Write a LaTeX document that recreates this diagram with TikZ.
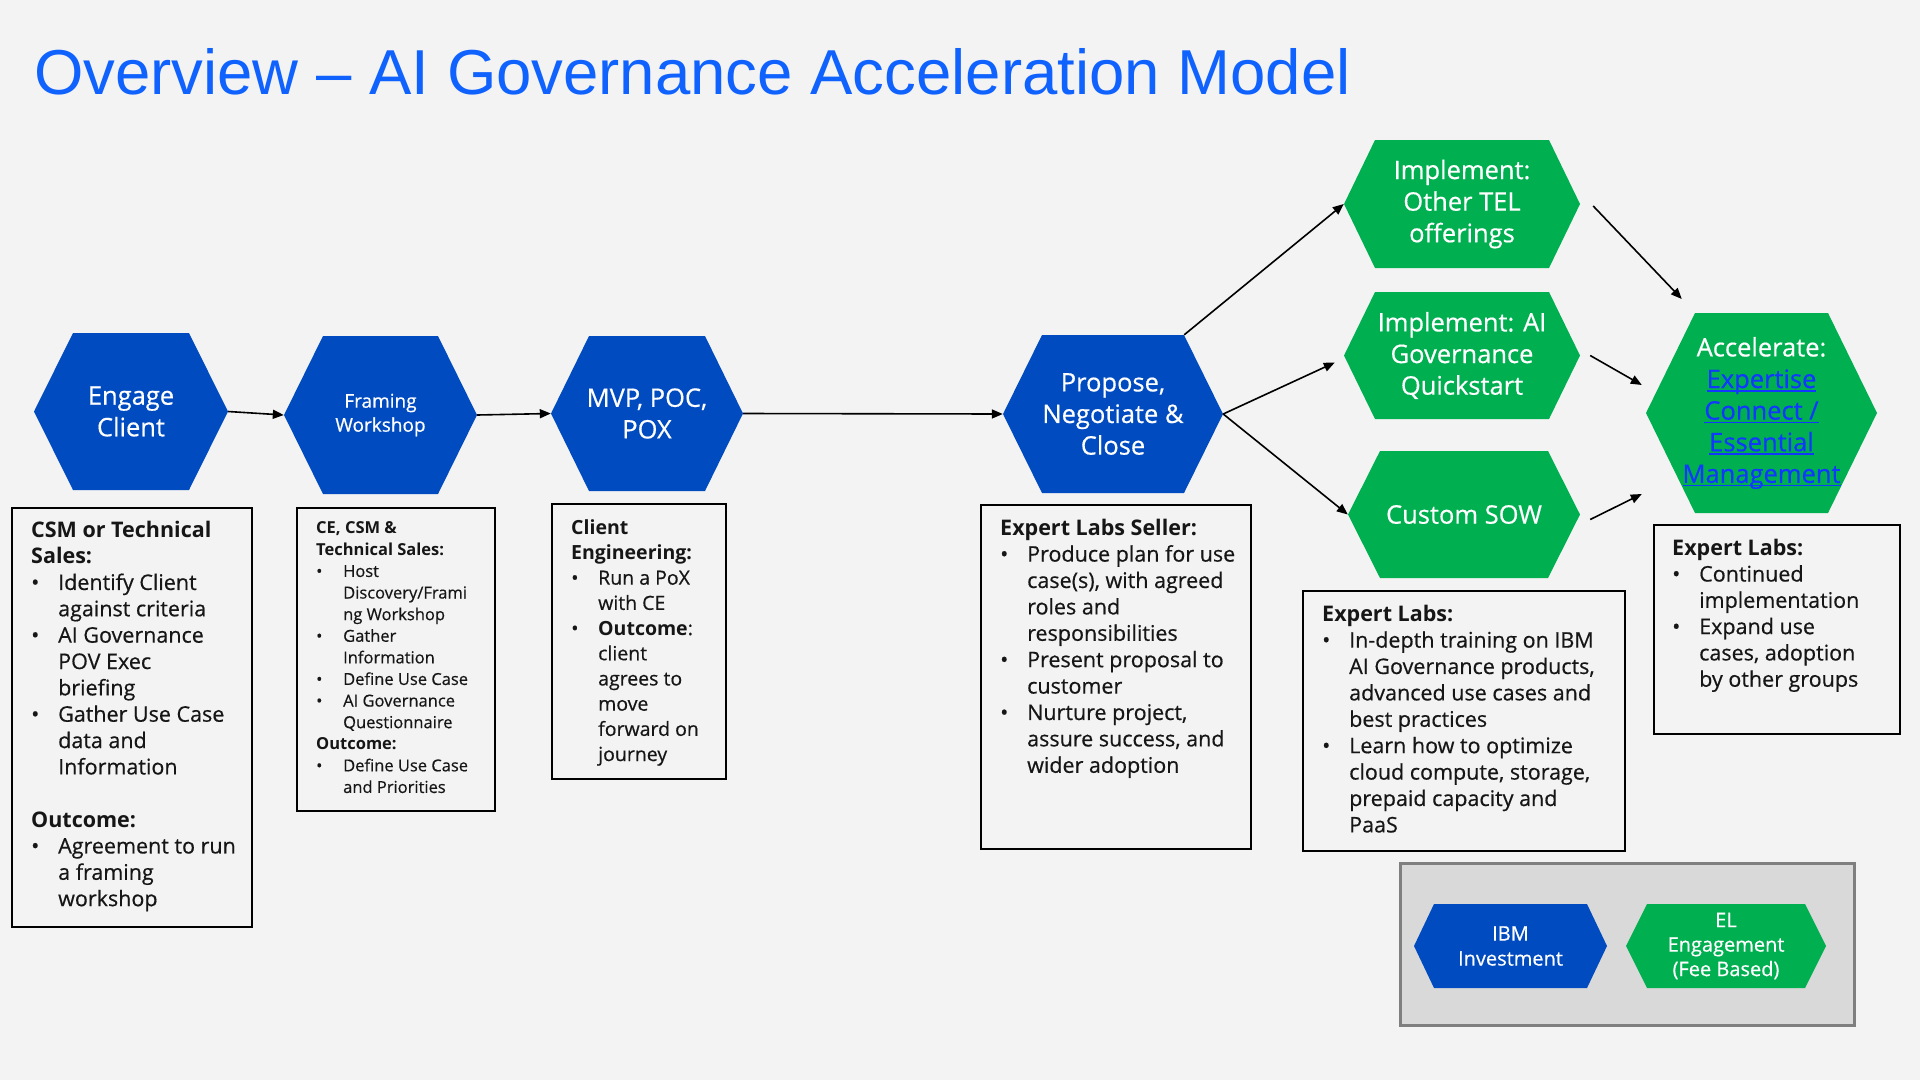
\documentclass[tikz,border=0pt]{standalone}
\usepackage{fontspec}
\setmainfont{Open Sans}[UprightFeatures={FakeBold=0.5}]
\newfontfamily\titlefont{Liberation Sans}
\usetikzlibrary{calc,arrows.meta}
\definecolor{bg}{HTML}{F3F3F3}
\definecolor{ibmblue}{HTML}{004BC0}
\definecolor{elgreen}{HTML}{00AF50}
\definecolor{titleblue}{HTML}{0F62FE}
\definecolor{linkblue}{HTML}{1238FF}
\definecolor{txt}{HTML}{161616}
\definecolor{legfill}{HTML}{D9D9D9}
\definecolor{legline}{HTML}{7F7F7F}
\newcommand\bitem[1]{\makebox[27pt][l]{\textbullet}#1}
\newcommand\bcont[1]{\hspace*{27pt}#1}
\newcommand\lnk[1]{\textcolor{linkblue}{\setbox0\hbox{#1}\rlap{\rule[-3.5pt]{\wd0}{1.6pt}}\box0}}
\tikzset{
  hexa/.style n args={4}{minimum width=#1, minimum height=#2, inner sep=0pt,
    text=white, align=center,
    path picture={\fill[#4] (path picture bounding box.west)
      -- ($(path picture bounding box.north west)+(#3,0)$)
      -- ($(path picture bounding box.north east)+(-#3,0)$)
      -- (path picture bounding box.east)
      -- ($(path picture bounding box.south east)+(-#3,0)$)
      -- ($(path picture bounding box.south west)+(#3,0)$) -- cycle;}},
  hexfont/.style={font=\fontsize{25.5}{31.6}\selectfont},
  tbox/.style={draw=black, line width=2pt, inner sep=0pt, anchor=north west},
  btxt/.style={anchor=north west, inner sep=0pt, align=left, text=txt},
  conn/.style={-{Triangle[length=11pt,width=9pt]}, line width=1.6pt, black},
  title/.style={anchor=base west, inner sep=0pt, text=titleblue,
    font=\titlefont\fontsize{63.5}{70}\selectfont}
}
\begin{document}
\begin{tikzpicture}[x=1pt,y=-1pt]
\useasboundingbox (0,0) rectangle (1920,1080);
\fill[bg] (0,0) rectangle (1920,1080);

\node[title] (ttl) at (34,94) {Overview – AI Governance Acceleration Model};

% hexagons
\node[hexa={194}{157}{39}{ibmblue}, hexfont] (engage) at (131,411.5) {Engage\\Client};
\node[hexa={193}{158}{39}{ibmblue}, font=\fontsize{19}{24}\selectfont] (framing) at (380.5,415) {Framing\\Workshop};
\node[hexa={192}{155}{38}{ibmblue}, hexfont] (mvp) at (647,413.5) {MVP, POC,\\POX};
\node[hexa={220}{158}{39}{ibmblue}, hexfont] (propose) at (1113,414) {Propose,\\Negotiate \&\\Close};
\node[hexa={236}{128}{31}{elgreen}, hexfont] (tel) at (1462,204) {Implement:\\Other TEL\\offerings};
\node[hexa={236}{127}{31}{elgreen}, hexfont] (qs) at (1462,355.5) {Implement: AI\\Governance\\Quickstart};
\node[hexa={232}{127}{32}{elgreen}, hexfont] (sow) at (1464,514.5) {Custom SOW};
\node[hexa={231}{200}{49}{elgreen}, hexfont] (acc) at (1761.5,413) {Accelerate:\\\lnk{Expertise}\\\lnk{Connect /}\\\lnk{Essential}\\\lnk{Management}};

% connectors
\draw[conn] (engage.east) -- (framing.west);
\draw[conn] (framing.east) -- (mvp.west);
\draw[conn] (mvp.east) -- (propose.west);
\coordinate (pne) at ($(propose.north east)+(-39,0)$);
\draw[conn] (pne) -- (tel.west);
\coordinate (qsin) at ($(qs.west)+(-9,7)$);
\draw[conn] (propose.east) -- (qsin);
\draw[conn] (propose.east) -- (sow.west);
\coordinate (telout) at ($(tel.east)+(13,2)$);
\coordinate (accin1) at ($(acc.west)+(36,-114)$);
\draw[conn] (telout) -- (accin1);
\coordinate (qsout) at ($(qs.east)+(10,0)$);
\coordinate (accin2) at ($(acc.west)+(-4,-28)$);
\draw[conn] (qsout) -- (accin2);
\coordinate (sowout) at ($(sow.east)+(10,5)$);
\coordinate (accin3) at ($(acc.west)+(-4,81)$);
\draw[conn] (sowout) -- (accin3);

% boxes
\node[tbox, minimum width=240, minimum height=419] (b1) at (11,507) {};
\node[tbox, minimum width=198, minimum height=303] (b2) at (296,507) {};
\node[tbox, minimum width=174, minimum height=275] (b3) at (551,503) {};
\node[tbox, minimum width=270, minimum height=344] (b4) at (980,504) {};
\node[tbox, minimum width=322, minimum height=260] (b5) at (1302,590) {};
\node[tbox, minimum width=246, minimum height=209] (b6) at (1653,524) {};

\node[btxt, font=\fontsize{21.5}{26.35}\selectfont] (t1) at (31,518.6) {%
\strut\textbf{CSM or Technical}\\
\textbf{Sales:}\\
\bitem{Identify Client}\\
\bcont{against criteria}\\
\bitem{AI Governance}\\
\bcont{POV Exec}\\
\bcont{briefing}\\
\bitem{Gather Use Case}\\
\bcont{data and}\\
\bcont{Information}\\
\strut\\
\textbf{Outcome:}\\
\bitem{Agreement to run}\\
\bcont{a framing}\\
\bcont{workshop}};

\node[btxt, font=\fontsize{16.5}{21.6}\selectfont] (t2) at (316,518.4) {%
\strut\textbf{CE, CSM \&}\\
\textbf{Technical Sales:}\\
\bitem{Host}\\
\bcont{Discovery/Frami}\\
\bcont{ng Workshop}\\
\bitem{Gather}\\
\bcont{Information}\\
\bitem{Define Use Case}\\
\bitem{AI Governance}\\
\bcont{Questionnaire}\\
\textbf{Outcome:}\\
\bitem{Define Use Case}\\
\bcont{and Priorities}};

\node[btxt, font=\fontsize{19.5}{25.2}\selectfont] (t3) at (571,516.4) {%
\strut\textbf{Client}\\
\textbf{Engineering:}\\
\bitem{Run a PoX}\\
\bcont{with CE}\\
\bitem{\textbf{Outcome}:}\\
\bcont{client}\\
\bcont{agrees to}\\
\bcont{move}\\
\bcont{forward on}\\
\bcont{journey}};

\node[btxt, font=\fontsize{21.5}{26.4}\selectfont] (t4) at (1000,516.5) {%
\strut\textbf{Expert Labs Seller:}\\
\bitem{Produce plan for use}\\
\bcont{case(s), with agreed}\\
\bcont{roles and}\\
\bcont{responsibilities}\\
\bitem{Present proposal to}\\
\bcont{customer}\\
\bitem{Nurture project,}\\
\bcont{assure success, and}\\
\bcont{wider adoption}};

\node[btxt, font=\fontsize{21.5}{26.4}\selectfont] (t5) at (1322,602.5) {%
\strut\textbf{Expert Labs:}\\
\bitem{In-depth training on IBM}\\
\bcont{AI Governance products,}\\
\bcont{advanced use cases and}\\
\bcont{best practices}\\
\bitem{Learn how to optimize}\\
\bcont{cloud compute, storage,}\\
\bcont{prepaid capacity and}\\
\bcont{PaaS}};

\node[btxt, font=\fontsize{21.5}{26.3}\selectfont] (t6) at (1672,536.6) {%
\strut\textbf{Expert Labs:}\\
\bitem{Continued}\\
\bcont{implementation}\\
\bitem{Expand use}\\
\bcont{cases, adoption}\\
\bcont{by other groups}};

% legend
\node[draw=legline, fill=legfill, line width=3pt, inner sep=0pt, anchor=north west,
  minimum width=454, minimum height=162] (leg) at (1399,862) {};
\node[hexa={193}{84}{20}{ibmblue}, font=\fontsize{20}{25}\selectfont] (ibm) at (1510.5,946) {IBM\\Investment};
\node[hexa={200}{84}{21}{elgreen}, font=\fontsize{20}{24.5}\selectfont] (el) at (1726,946) {EL\\Engagement\\(Fee Based)};
\end{tikzpicture}
\end{document}
